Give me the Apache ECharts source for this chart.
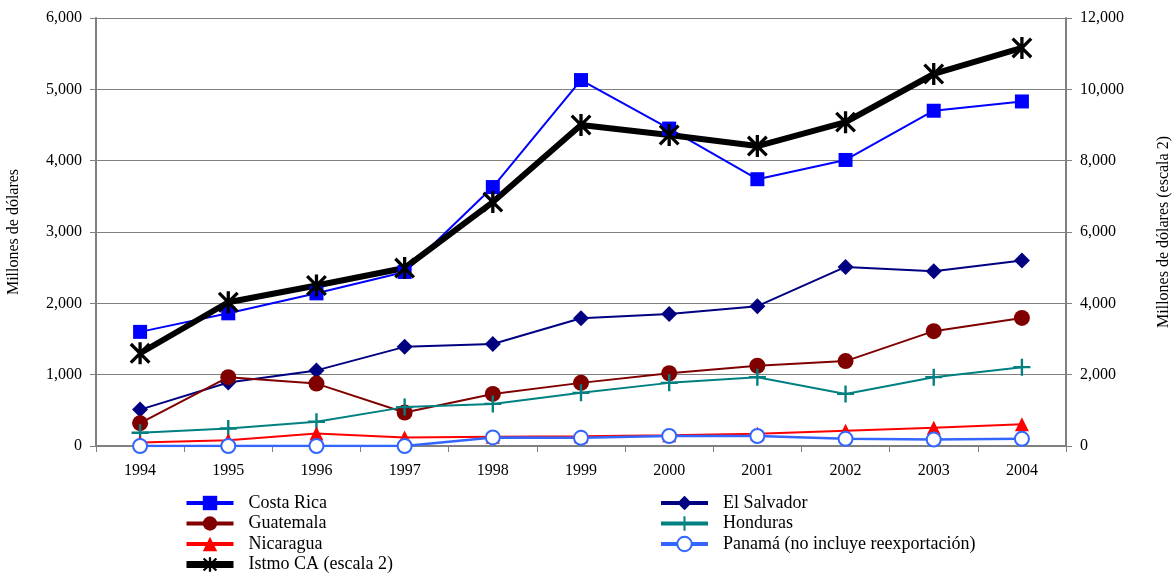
<!DOCTYPE html>
<html>
<head>
<meta charset="utf-8">
<script src="https://cdn.jsdelivr.net/npm/echarts@6.0.0/dist/echarts.min.js"></script>
<style>
  html, body { margin: 0; padding: 0; background: #fff; }
  #chart { width: 1173px; height: 573px; }
</style>
</head>
<body>
<div id="chart"></div>
<script>
// años (eje x)
const years = ['1994', '1995', '1996', '1997', '1998', '1999', '2000', '2001', '2002', '2003', '2004'];

// millones de dólares, escala 1
const costaRica = [1600, 1860, 2140, 2440, 3630, 5130, 4450, 3740, 4010, 4700, 4830];
const elSalvador = [510, 890, 1060, 1390, 1430, 1790, 1850, 1960, 2510, 2450, 2600];
const guatemala = [320, 965, 875, 470, 730, 885, 1020, 1125, 1190, 1610, 1795];
const honduras = [185, 245, 340, 545, 590, 745, 885, 965, 730, 965, 1105];
const nicaragua = [50, 80, 175, 120, 130, 135, 150, 170, 215, 255, 305];
const panama = [0, 0, 0, 0, 120, 115, 140, 140, 100, 90, 100];

// escala 2
const istmoCA = [2600, 4030, 4500, 4990, 6840, 9000, 8720, 8410, 9080, 10430, 11160];

const FONT = '"Liberation Serif", "DejaVu Serif", serif';

// marcadores tipo excel (cruz y asterisco)
const plusPath = 'path://M8.6,0H11.4V20H8.6Z M0,8.6H20V11.4H0Z';
const starPath = 'path://M8.5,0H11.5V20H8.5Z M0.5,2.6L2.6,0.5L19.5,17.4L17.4,19.5Z M17.4,0.5L19.5,2.6L2.6,19.5L0.5,17.4Z';

function lineSeries(name, data, color, symbol, size, extra) {
  return Object.assign({
    name: name,
    type: 'line',
    data: data,
    symbol: symbol,
    symbolSize: size,
    symbolKeepAspect: true,
    showAllSymbol: true,
    lineStyle: { color: color, width: 2 },
    itemStyle: { color: color, borderColor: color, borderWidth: 0 },
    emphasis: { disabled: true }
  }, extra || {});
}

const legendBase = {
  orient: 'vertical',
  top: 494,
  padding: 0,
  height: 120,
  itemWidth: 47,
  itemHeight: 18,
  itemGap: 2.5,
  textStyle: { fontFamily: FONT, fontSize: 18, lineHeight: 18, color: '#000', padding: [0, 0, 0, 10] }
};

// en la leyenda las líneas se ven más gruesas
function legendItem(name) {
  return { name: name, lineStyle: { width: 4 } };
}

const chart = echarts.init(document.getElementById('chart'));
chart.setOption({
  animation: false,
  textStyle: { fontFamily: FONT },
  grid: { left: 96, right: 107, top: 18, bottom: 127, outerBoundsMode: 'none', containLabel: false },
  legend: [
    Object.assign({}, legendBase, {
      left: 183,
      data: [legendItem('Costa Rica'), legendItem('Guatemala'), legendItem('Nicaragua'),
        { name: 'Istmo CA (escala 2)', lineStyle: { width: 7 } }]
    }),
    Object.assign({}, legendBase, {
      left: 659,
      data: [legendItem('El Salvador'), legendItem('Honduras'),
        legendItem('Panamá (no incluye reexportación)')]
    })
  ],
  xAxis: {
    type: 'category',
    data: years,
    boundaryGap: true,
    axisLine: { lineStyle: { color: '#808080', width: 2 } },
    axisTick: { show: true, length: 6, lineStyle: { color: '#808080' } },
    axisLabel: { color: '#000', fontSize: 16, fontFamily: FONT, margin: 17 }
  },
  yAxis: [
    {
      type: 'value',
      min: 0,
      max: 6000,
      interval: 1000,
      name: 'Millones de dólares',
      nameLocation: 'middle',
      nameGap: 74,
      nameTextStyle: { color: '#000', fontSize: 16, fontFamily: FONT },
      axisLine: { show: true, lineStyle: { color: '#808080', width: 2 } },
      axisTick: { show: true, length: 6, lineStyle: { color: '#808080' } },
      axisLabel: {
        color: '#000', fontSize: 16, fontFamily: FONT, margin: 14,
        formatter: v => v.toLocaleString('en-US')
      },
      splitLine: { show: true, lineStyle: { color: '#808080', width: 1 } }
    },
    {
      type: 'value',
      min: 0,
      max: 12000,
      interval: 2000,
      position: 'right',
      name: 'Millones de dólares (escala 2)',
      nameLocation: 'middle',
      nameGap: 90,
      nameRotate: 90,
      nameTextStyle: { color: '#000', fontSize: 16, fontFamily: FONT },
      axisLine: { show: true, lineStyle: { color: '#808080', width: 2 } },
      axisTick: { show: true, length: 6, lineStyle: { color: '#808080' } },
      axisLabel: {
        color: '#000', fontSize: 16, fontFamily: FONT, margin: 14,
        formatter: v => v.toLocaleString('en-US')
      },
      splitLine: { show: false }
    }
  ],
  series: [
    lineSeries('Costa Rica', costaRica, '#0000FF', 'rect', 14),
    lineSeries('El Salvador', elSalvador, '#000080', 'diamond', 16),
    lineSeries('Guatemala', guatemala, '#800000', 'circle', 16),
    lineSeries('Honduras', honduras, '#008080', plusPath, 17),
    lineSeries('Nicaragua', nicaragua, '#FF0000', 'triangle', 14),
    lineSeries('Panamá (no incluye reexportación)', panama, '#3366FF', 'emptyCircle', 14, {
      lineStyle: { color: '#3366FF', width: 2.5 },
      itemStyle: { color: '#3366FF', borderColor: '#3366FF', borderWidth: 3 }
    }),
    lineSeries('Istmo CA (escala 2)', istmoCA, '#000000', starPath, 22, {
      yAxisIndex: 1,
      lineStyle: { color: '#000000', width: 6 }
    })
  ]
});
</script>
</body>
</html>
